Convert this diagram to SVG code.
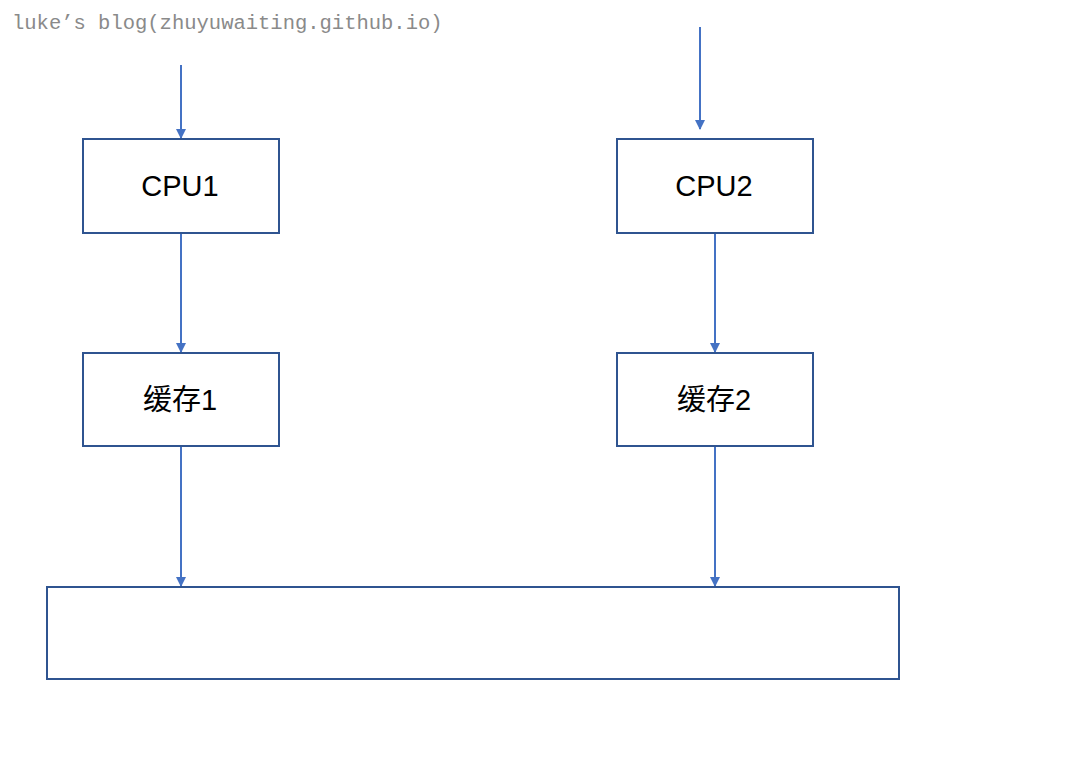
<svg xmlns="http://www.w3.org/2000/svg" width="1084" height="784" viewBox="0 0 1084 784">
<style>
.box{fill:#fff;stroke:#2F5490;stroke-width:2}
.conn{stroke:#4472C4;stroke-width:2;fill:none;marker-end:url(#ah)}
.lbl{font-family:"Liberation Sans","Noto Sans CJK SC",sans-serif;font-size:29px;fill:#000;text-anchor:middle;dominant-baseline:central}
.wm{font-family:"Liberation Mono","Noto Sans CJK JP",monospace;font-size:20.5px;fill:#8a8a8a}
</style>
<defs>
<marker id="ah" markerWidth="10" markerHeight="10" refX="9" refY="5" orient="auto" markerUnits="userSpaceOnUse">
<path d="M0,0 L10,5 L0,10 Z" fill="#4472C4"/>
</marker>
</defs>
<rect width="1084" height="784" fill="#fff"/>
<text class="wm" x="12" y="29">luke’s blog(zhuyuwaiting.github.io)</text>
<g id="connectors">
<line class="conn" x1="181" y1="65" x2="181" y2="138"/>
<line class="conn" x1="700" y1="27" x2="700" y2="129"/>
<line class="conn" x1="181" y1="234" x2="181" y2="352"/>
<line class="conn" x1="715" y1="234" x2="715" y2="352"/>
<line class="conn" x1="181" y1="447" x2="181" y2="586"/>
<line class="conn" x1="715" y1="447" x2="715" y2="586"/>
</g>
<g id="cpu1"><rect class="box" x="83" y="139" width="196" height="94"/><text class="lbl" x="180" y="186">CPU1</text></g>
<g id="cpu2"><rect class="box" x="617" y="139" width="196" height="94"/><text class="lbl" x="714" y="186">CPU2</text></g>
<g id="cache1"><rect class="box" x="83" y="353" width="196" height="93"/><text class="lbl" x="180" y="400">缓存1</text></g>
<g id="cache2"><rect class="box" x="617" y="353" width="196" height="93"/><text class="lbl" x="714" y="400">缓存2</text></g>
<g id="memory"><rect class="box" x="47" y="587" width="852" height="92"/></g>
</svg>
